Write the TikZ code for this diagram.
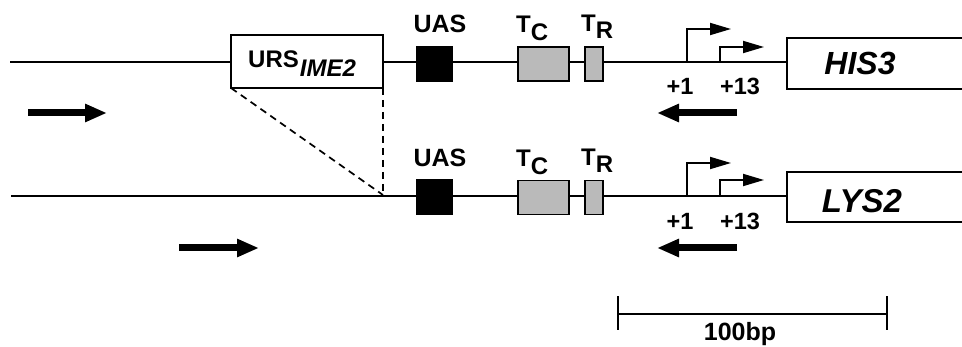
\documentclass[tikz,border=0pt]{standalone}
\usepackage{fontspec}
\setmainfont{Liberation Sans}
\usetikzlibrary{arrows.meta}
\begin{document}
\begin{tikzpicture}[x=1pt,y=-1pt,
  dna/.style={line width=2pt},
  wbox/.style={draw, line width=2pt, fill=white, inner sep=0pt, outer sep=0pt},
  bbox/.style={draw, line width=1.2pt, fill=black, inner sep=0pt, outer sep=0pt},
  gbox/.style={draw, line width=1.8pt, fill=black!27, inner sep=0pt, outer sep=0pt},
  lbl/.style={inner sep=0pt, anchor=base, font=\fontsize{23.5}{25}\selectfont\bfseries},
  gene/.style={inner sep=0pt, anchor=base, font=\fontsize{33}{36}\selectfont\bfseries\itshape},
  prom/.style={line width=1.8pt, -{Triangle[length=21pt,width=12pt]}},
  fat/.style={line width=7pt, -{Triangle[length=22pt,width=17pt]}},
  dsh/.style={line width=1.7pt, dash pattern=on 7pt off 5pt},
  bar/.style={line width=1.8pt},
]
\useasboundingbox (0,0) rectangle (962,347);
\fill[white] (0,0) rectangle (962,347);
\clip (0,0) rectangle (962,347);

% ---------- top construct ----------
\coordinate (s1) at (10,62.5);
\coordinate (e1) at (787,62.5);
\draw[dna] (s1) -- (e1);
\node[wbox, minimum width=152pt, minimum height=53pt] (urs) at (307,61.5) {};
\node[lbl, anchor=base west, font=\fontsize{24}{26}\selectfont\bfseries] (urslbl) at (248,68) {URS\kern1pt\raisebox{-9pt}{\itshape IME2}};
\node[bbox, minimum width=36pt, minimum height=35pt] (uas1) at (434.5,64) {};
\node[lbl, font=\fontsize{25}{27}\selectfont\bfseries] (uas1l) at (440,33) {UAS};
\node[gbox, minimum width=51pt, minimum height=34pt] (tc1) at (543.5,64) {};
\node[lbl, anchor=base west, font=\fontsize{24}{26}\selectfont\bfseries] (tc1l) at (516,33) {T\raisebox{-8pt}{C}};
\node[gbox, minimum width=18pt, minimum height=34pt] (tr1) at (594,64) {};
\node[lbl, anchor=base west, font=\fontsize{24}{26}\selectfont\bfseries] (tr1l) at (581,32) {T\raisebox{-7pt}{R}};
\node[wbox, anchor=west, minimum width=200pt, minimum height=51pt] (his3) at (787,63.5) {};
\node[gene, font=\fontsize{32}{34}\selectfont\bfseries\itshape] (his3l) at (860,75) {HIS3};

\coordinate (p1a) at (687,62.5);
\coordinate (p1b) at (731,29);
\coordinate (p13a) at (720,62.5);
\coordinate (p13b) at (764,47);
\draw[prom] (p1a) |- (p1b);
\draw[prom] (p13a) |- (p13b);
\node[lbl] (t1p1) at (680,95) {+1};
\node[lbl] (t1p13) at (740,95) {+13};

\coordinate (fa1s) at (28,113);
\coordinate (fa1e) at (107,113);
\draw[fat] (fa1s) -- (fa1e);
\coordinate (ra1s) at (737,113);
\coordinate (ra1e) at (657,113);
\draw[fat] (ra1s) -- (ra1e);

% ---------- bottom construct ----------
\coordinate (s2) at (11,196);
\coordinate (e2) at (787,196);
\draw[dna] (s2) -- (e2);
\coordinate (j) at (383,195);
\draw[dsh] (urs.south west) -- (j);
\draw[dsh] (urs.south east) -- (j);
\node[bbox, minimum width=36pt, minimum height=35pt] (uas2) at (434.5,197) {};
\node[lbl, font=\fontsize{25}{27}\selectfont\bfseries] (uas2l) at (440,166.5) {UAS};
\node[gbox, minimum width=51pt, minimum height=34pt] (tc2) at (543.5,197.5) {};
\node[lbl, anchor=base west, font=\fontsize{24}{26}\selectfont\bfseries] (tc2l) at (516,166.5) {T\raisebox{-8pt}{C}};
\node[gbox, minimum width=18pt, minimum height=34pt] (tr2) at (594,197.5) {};
\node[lbl, anchor=base west, font=\fontsize{24}{26}\selectfont\bfseries] (tr2l) at (581,165.5) {T\raisebox{-7pt}{R}};
\node[wbox, anchor=west, minimum width=200pt, minimum height=50pt] (lys2) at (787,197) {};
\node[gene] (lys2l) at (862,213) {LYS2};

\coordinate (q1a) at (687,196);
\coordinate (q1b) at (731,163);
\coordinate (q13a) at (720,196);
\coordinate (q13b) at (764,180);
\draw[prom] (q1a) |- (q1b);
\draw[prom] (q13a) |- (q13b);
\node[lbl] (t2p1) at (680,229.5) {+1};
\node[lbl] (t2p13) at (740,229.5) {+13};

\coordinate (fa2s) at (179,248);
\coordinate (fa2e) at (259,248);
\draw[fat] (fa2s) -- (fa2e);
\coordinate (ra2s) at (737,248);
\coordinate (ra2e) at (657,248);
\draw[fat] (ra2s) -- (ra2e);

% ---------- scale bar ----------
\coordinate (sbl) at (618,314);
\coordinate (sbr) at (887,314);
\draw[bar] (sbl) -- (sbr);
\draw[bar] ([yshift=-16pt]sbl) -- ([yshift=18pt]sbl);
\draw[bar] ([yshift=-16pt]sbr) -- ([yshift=18pt]sbr);
\node[lbl, font=\fontsize{25}{27}\selectfont\bfseries] (sblbl) at (740,341) {100bp};
\end{tikzpicture}
\end{document}
